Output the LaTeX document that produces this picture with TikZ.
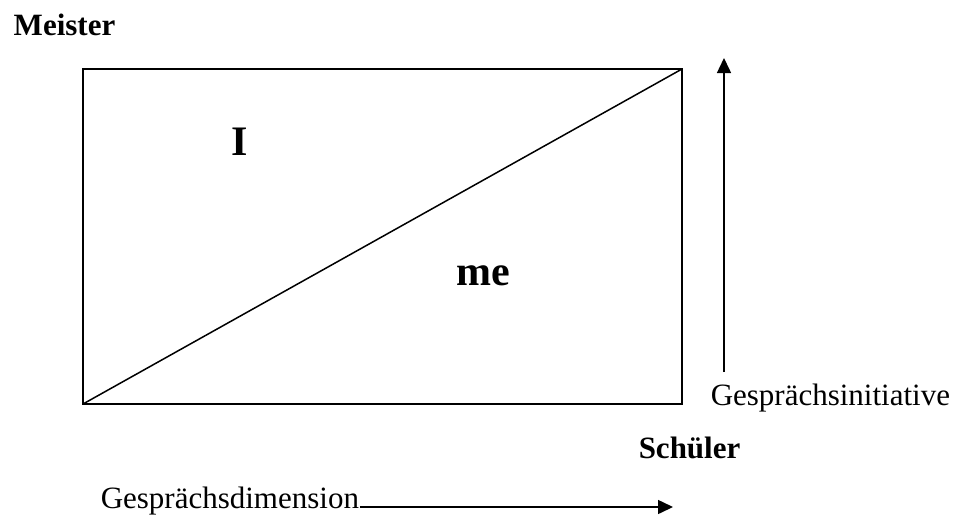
\documentclass[tikz,border=0pt]{standalone}
\usepackage{fontspec}
\setmainfont{Liberation Serif}
\usetikzlibrary{arrows.meta}
\tikzset{
    lbl/.style={inner sep=0pt, font=\fontsize{15.5}{18}\selectfont},
    blbl/.style={lbl, font=\fontsize{15.5}{18}\selectfont\bfseries},
    big/.style={inner sep=0pt, font=\fontsize{21}{24}\selectfont\bfseries},
    pfeil/.style={-{Triangle[length=7.5pt,width=7pt]}, line width=0.75pt},
}
\begin{document}
\begin{tikzpicture}[x=0.5pt, y=-0.5pt, line width=0.75pt]
        \useasboundingbox (0,0) rectangle (962,520);
        \coordinate (bl) at (83,404);
        \coordinate (tr) at (682,69);
        \draw (bl) rectangle (tr);
        \draw (bl)--(tr);
        \node[big, anchor=base] (ich) at (240,155) {I};
        \node[big, anchor=base] (mich) at (483,285) {me};
        \node[blbl, anchor=base west] (meister) at (13,35) {Meister};
        \node[blbl, anchor=base west] (schueler) at (638,458) {Schüler};
        \node[lbl, anchor=base west] (init) at (710,405) {Gesprächsinitiative};
        \node[lbl, anchor=base west] (dim) at (100,508) {Gesprächsdimension};
        \coordinate (initA) at (724,372);
        \coordinate (initB) at (724,58);
        \coordinate (dimB) at (673,507);
        \draw[pfeil] (initA)--(initB);
        \draw[pfeil] (dim.base east)++(0,-1)--(dimB);
    \end{tikzpicture}
\end{document}
